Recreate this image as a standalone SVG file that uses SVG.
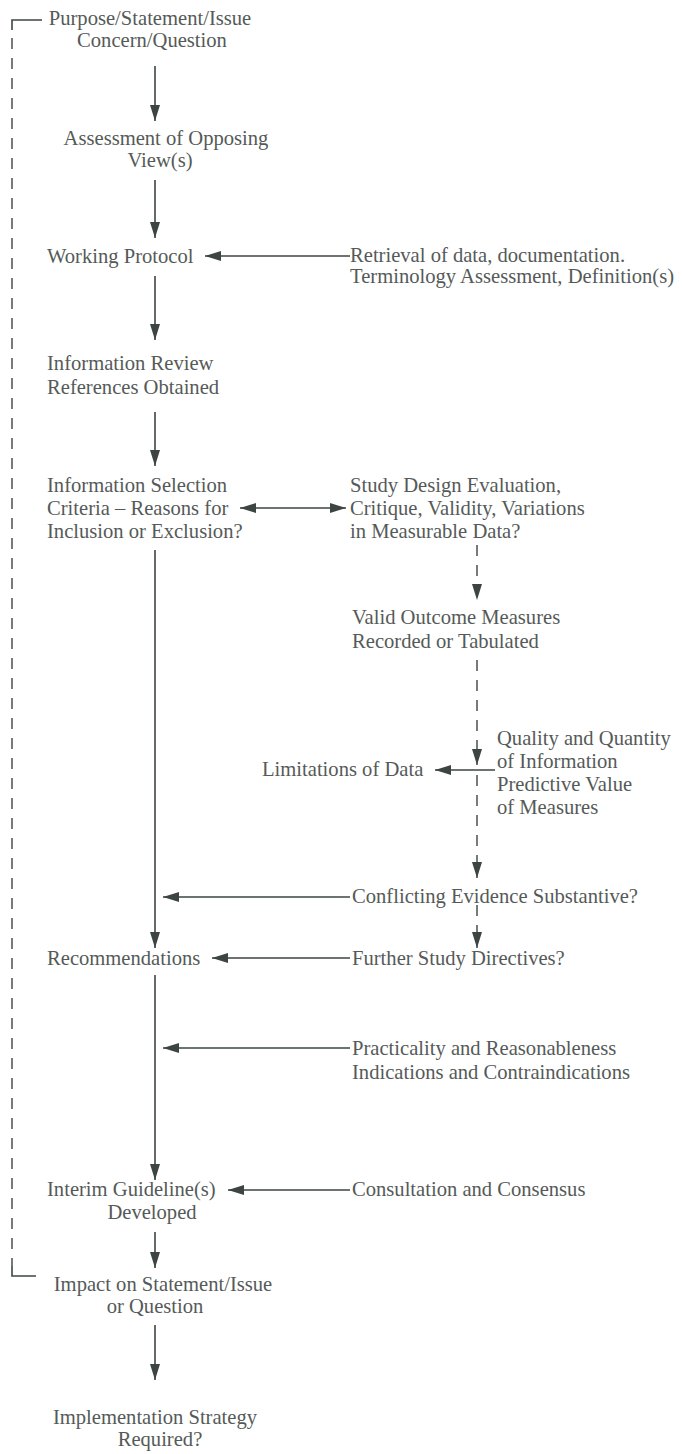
<svg xmlns="http://www.w3.org/2000/svg" width="682" height="1454" viewBox="0 0 682 1454">
<style>
text{font-family:"Liberation Serif","Times New Roman",serif;font-size:20.6px;fill:#555a58}
.c{text-anchor:middle}
.ln{stroke:#3d4542;stroke-width:1.6;fill:none}
.ds{stroke:#3d4542;stroke-width:1.4;fill:none;stroke-dasharray:11 9}
</style>
<defs>
<marker id="ah" viewBox="0 0 16 10" refX="16" refY="5" markerWidth="16" markerHeight="10" orient="auto-start-reverse" markerUnits="userSpaceOnUse">
<path d="M0,0 L16,5 L0,10 z" fill="#3d4542"/>
</marker>
</defs>
<rect width="682" height="1454" fill="#ffffff"/>
<g id="connectors">
<path class="ln" d="M42,20 H12 V30"/>
<path class="ds" d="M12,38 V1266"/>
<path class="ln" d="M12,1266 V1276 H36"/>
<path class="ln" d="M155,66 V121" marker-end="url(#ah)"/>
<path class="ln" d="M155,180 V238" marker-end="url(#ah)"/>
<path class="ln" d="M350,256 H205" marker-end="url(#ah)"/>
<path class="ln" d="M155,276 V340" marker-end="url(#ah)"/>
<path class="ln" d="M155,412 V466" marker-end="url(#ah)"/>
<path class="ln" d="M240,508 H346" marker-start="url(#ah)" marker-end="url(#ah)"/>
<path class="ds" d="M477,545 V600" marker-end="url(#ah)"/>
<path class="ln" d="M155,550 V948" marker-end="url(#ah)"/>
<path class="ds" d="M477,660 V765" marker-end="url(#ah)"/>
<path class="ds" d="M477,775 V878" marker-end="url(#ah)"/>
<path class="ln" d="M495,770 H435" marker-end="url(#ah)"/>
<path class="ln" d="M350,897 H163" marker-end="url(#ah)"/>
<path class="ds" d="M477,905 V948" marker-end="url(#ah)"/>
<path class="ln" d="M350,958 H212" marker-end="url(#ah)"/>
<path class="ln" d="M155,975 V1180" marker-end="url(#ah)"/>
<path class="ln" d="M350,1048 H163" marker-end="url(#ah)"/>
<path class="ln" d="M350,1190 H228" marker-end="url(#ah)"/>
<path class="ln" d="M155,1232 V1268" marker-end="url(#ah)"/>
<path class="ln" d="M155,1325 V1380" marker-end="url(#ah)"/>
</g>
<g id="n1"><text class="c" x="150" y="25">Purpose/Statement/Issue</text><text class="c" x="152" y="47">Concern/Question</text></g>
<g id="n2"><text class="c" x="166" y="145">Assessment of Opposing</text><text class="c" x="160" y="167">View(s)</text></g>
<g id="n3"><text x="47" y="263">Working Protocol</text></g>
<g id="n4"><text x="350" y="262">Retrieval of data, documentation.</text><text x="350" y="283">Terminology Assessment, Definition(s)</text></g>
<g id="n5"><text x="47" y="370">Information Review</text><text x="47" y="394">References Obtained</text></g>
<g id="n6"><text x="47" y="492">Information Selection</text><text x="47" y="515">Criteria – Reasons for</text><text x="47" y="538">Inclusion or Exclusion?</text></g>
<g id="n7"><text x="350" y="492">Study Design Evaluation,</text><text x="350" y="515">Critique, Validity, Variations</text><text x="350" y="538">in Measurable Data?</text></g>
<g id="n8"><text x="352" y="624">Valid Outcome Measures</text><text x="352" y="648">Recorded or Tabulated</text></g>
<g id="n9"><text x="262" y="776">Limitations of Data</text></g>
<g id="n10"><text x="497" y="745">Quality and Quantity</text><text x="497" y="768">of Information</text><text x="497" y="791">Predictive Value</text><text x="497" y="814">of Measures</text></g>
<g id="n11"><text x="352" y="903">Conflicting Evidence Substantive?</text></g>
<g id="n12"><text x="47" y="965">Recommendations</text></g>
<g id="n13"><text x="352" y="965">Further Study Directives?</text></g>
<g id="n14"><text x="352" y="1055">Practicality and Reasonableness</text><text x="352" y="1079">Indications and Contraindications</text></g>
<g id="n15"><text x="47" y="1196">Interim Guideline(s)</text><text class="c" x="152" y="1219">Developed</text></g>
<g id="n16"><text x="352" y="1196">Consultation and Consensus</text></g>
<g id="n17"><text class="c" x="163" y="1291">Impact on Statement/Issue</text><text class="c" x="155" y="1313">or Question</text></g>
<g id="n18"><text class="c" x="155" y="1424">Implementation Strategy</text><text class="c" x="160" y="1446">Required?</text></g>
</svg>
